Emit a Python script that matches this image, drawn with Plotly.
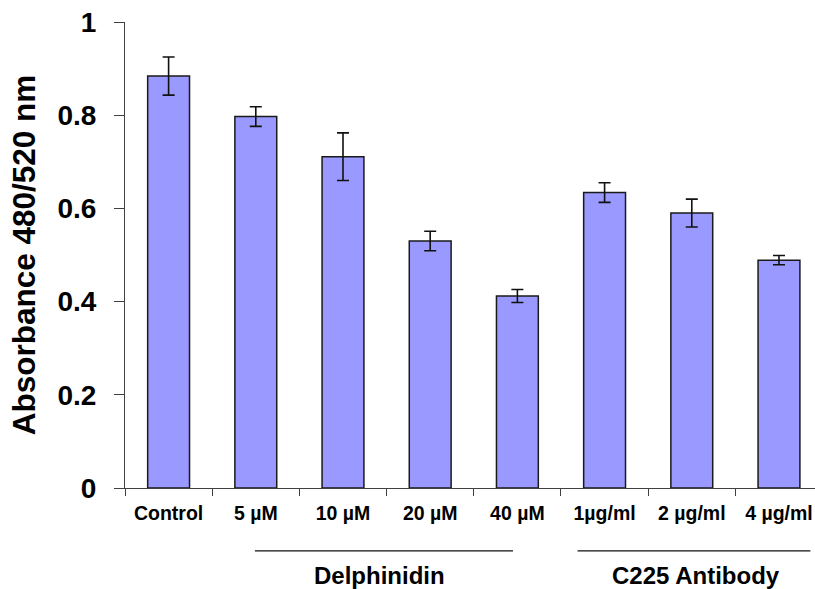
import plotly.graph_objects as go

categories = ["Control", "5 µM", "10 µM", "20 µM", "40 µM", "1µg/ml", "2 µg/ml", "4 µg/ml"]
absorbance = [0.884, 0.797, 0.711, 0.530, 0.412, 0.634, 0.590, 0.489]
errors = [0.041, 0.021, 0.051, 0.021, 0.014, 0.021, 0.030, 0.010]
y_ticks = [0, 0.2, 0.4, 0.6, 0.8, 1]
y_tick_labels = ["0", "0.2", "0.4", "0.6", "0.8", "1"]
groups = [
    {"name": "Delphinidin", "start": 0.99, "end": 3.95, "center": 2.42},
    {"name": "C225 Antibody", "start": 4.69, "end": 7.36, "center": 6.05},
]

FONT = "Liberation Sans, Arial, sans-serif"

fig = go.Figure()
fig.add_trace(go.Bar(
    x=categories,
    y=absorbance,
    width=0.48,
    marker=dict(color="#9999FF", line=dict(color="#1a1a1a", width=1.5)),
    error_y=dict(type="data", array=errors, visible=True,
                 color="#111111", thickness=1.6, width=6),
    showlegend=False,
))

shapes = []
annotations = []
for g in groups:
    shapes.append(dict(type="line", xref="x", yref="paper",
                       x0=g["start"], x1=g["end"], y0=-0.135, y1=-0.135,
                       line=dict(color="#111111", width=1.3)))
    annotations.append(dict(text="<b>%s</b>" % g["name"], xref="x", yref="paper",
                            x=g["center"], y=-0.187, showarrow=False,
                            xanchor="center", yanchor="middle",
                            font=dict(family=FONT, size=24, color="black")))

fig.update_layout(
    width=815, height=589,
    margin=dict(l=125, r=0, t=22, b=101, autoexpand=False),
    paper_bgcolor="white", plot_bgcolor="white",
    shapes=shapes,
    annotations=annotations,
    font=dict(family=FONT, color="black"),
)

fig.update_xaxes(
    type="category",
    range=[-0.5, 7.413],
    automargin=False,
    showline=True, linecolor="#404040", linewidth=1,
    ticks="outside", tickson="boundaries", ticklen=7, tickcolor="#404040",
    tickfont=dict(family=FONT, size=19.5, color="black", weight="bold"),
    ticklabelstandoff=8,
    ticklabeloverflow="allow",
    showgrid=False, zeroline=False,
)

fig.update_yaxes(
    range=[0, 1],
    automargin=False,
    tickvals=y_ticks, ticktext=y_tick_labels,
    showline=True, linecolor="#404040", linewidth=1,
    ticks="outside", ticklen=10, tickcolor="#404040",
    tickfont=dict(family=FONT, size=28, color="black", weight="bold"),
    ticklabelstandoff=12,
    ticklabeloverflow="allow",
    showgrid=False, zeroline=False,
    title=dict(text="<b>Absorbance 480/520 nm</b>", standoff=12,
               font=dict(family=FONT, size=31.5, color="black")),
)

fig.write_html(
    "out.html",
    config={"displayModeBar": False},
    post_script="document.body.style.margin='0';document.body.style.overflow='hidden';",
)
